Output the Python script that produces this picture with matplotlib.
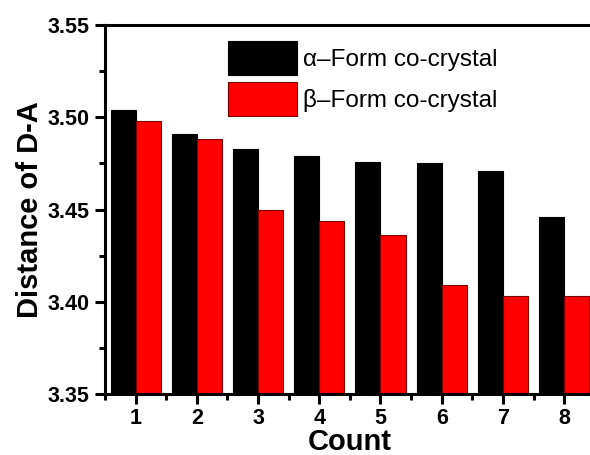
import numpy as np
import matplotlib
matplotlib.use('Agg')
import matplotlib.pyplot as plt
from matplotlib.ticker import MultipleLocator, FormatStrFormatter

plt.rcParams['font.family'] = ['Liberation Sans', 'DejaVu Sans']

counts = [1, 2, 3, 4, 5, 6, 7, 8]
alpha_form = [3.504, 3.491, 3.483, 3.479, 3.476, 3.475, 3.471, 3.446]
beta_form = [3.498, 3.488, 3.450, 3.444, 3.436, 3.409, 3.403, 3.403]
labels = ['\u03b1\u2013Form co-crystal', '\u03b2\u2013Form co-crystal']

fig = plt.figure(figsize=(5.9, 4.55), dpi=100)
ax = fig.add_axes([0.178, 0.134, 0.830, 0.811])

x = np.array(counts)
w = 0.41
ax.bar(x - w / 2, alpha_form, w, bottom=0, color='black', edgecolor='black', linewidth=0.8, label=labels[0])
ax.bar(x + w / 2, beta_form, w, bottom=0, color='#ff0000', edgecolor='#7a0000', linewidth=0.8, label=labels[1])

ax.set_xlim(0.5, 8.5)
ax.set_ylim(3.35, 3.55)
ax.set_xticks(counts)
ax.xaxis.set_minor_locator(MultipleLocator(0.5))
ax.yaxis.set_major_locator(MultipleLocator(0.05))
ax.yaxis.set_minor_locator(MultipleLocator(0.025))
ax.yaxis.set_major_formatter(FormatStrFormatter('%.2f'))

for s in ax.spines.values():
    s.set_linewidth(2.2)
ax.tick_params(which='major', direction='out', length=7, width=2.2, labelsize=15.5)
ax.tick_params(axis='y', which='major', pad=4)
ax.tick_params(axis='x', which='major', pad=3)
ax.tick_params(which='minor', direction='out', length=4, width=2.2)
for lab in ax.get_xticklabels() + ax.get_yticklabels():
    lab.set_fontweight('bold')

ax.set_xlabel('Count', fontsize=21, fontweight='bold', labelpad=-1)
ax.set_ylabel('Distance of D-A', fontsize=21, fontweight='bold', labelpad=3)

ax.legend(loc='upper left', bbox_to_anchor=(228 / 590, 1 - 41 / 455), bbox_transform=fig.transFigure,
          frameon=False, fontsize=17.5, borderpad=0, borderaxespad=0, handlelength=2.84, handleheight=1.76,
          labelspacing=0.29, handletextpad=0.25)

fig.savefig('out.png', dpi=100)
